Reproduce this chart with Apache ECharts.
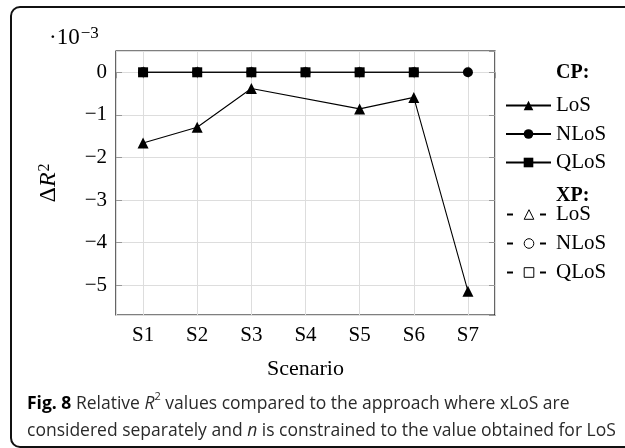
<!DOCTYPE html>
<html><head><meta charset="utf-8">
<script src="https://cdn.jsdelivr.net/npm/echarts@6/dist/echarts.min.js"></script>
<style>html,body{margin:0;padding:0;background:#fff}#c{width:625px;height:448px}</style>
</head><body><div id="c"></div>
<script>
const scenarios = ['S1','S2','S3','S4','S5','S6','S7'];
const cpLoS  = [-1.66, -1.29, -0.38, null, -0.86, -0.59, -5.14];
const cpNLoS = [0, 0, 0, 0, 0, 0, 0];
const cpQLoS = [0, 0, 0, 0, 0, 0, null];
const xpLoS  = [null, null, null, null, null, null, null];
const xpNLoS = [null, null, null, null, null, null, null];
const xpQLoS = [null, null, null, null, null, null, null];
const yTickValues = [0, -1, -2, -3, -4, -5];

const SERIF = "'Liberation Serif', 'DejaVu Serif', serif";
const SANS = "'Open Sans', 'Noto Sans', sans-serif";
const pairs = arr => arr.map((v, i) => [i + 1, v]);
const fmtY = v => {
  if (!yTickValues.includes(Math.round(v * 1000) / 1000)) return '';
  return v < 0 ? '\u2212' + Math.abs(v) : String(v);
};

const chart = echarts.init(document.getElementById('c'), null, {renderer: 'canvas'});

function mk(name, data, symbol, dashed, size) {
  return {
    name: name, type: 'line', data: pairs(data), connectNulls: true,
    symbol: symbol, symbolSize: size, showSymbol: true,
    lineStyle: {color: '#000', width: 1.1, type: dashed ? [6, 27] : 'solid'},
    itemStyle: dashed ? {color: '#fff', borderColor: '#000', borderWidth: 1} : {color: '#000'},
    emphasis: {disabled: true}, animation: false, z: 3
  };
}

const option = {
  animation: false,
  grid: {left: 116, top: 51, right: 130, bottom: 133, show: true, borderColor: '#000', borderWidth: 1.2, backgroundColor: 'transparent'},
  xAxis: [{
    type: 'value', min: 0.5, max: 7.5, splitNumber: 7,
    axisLine: {show: false},
    axisTick: {show: true, inside: true, length: 6, lineStyle: {color: '#999'}},
    splitLine: {show: true, lineStyle: {color: '#ddd', width: 1}},
    axisLabel: {showMinLabel: false, showMaxLabel: false, margin: 10, color: '#000', fontFamily: SERIF, fontSize: 21,
      formatter: v => scenarios[Math.round(v) - 1] !== undefined && Math.abs(v - Math.round(v)) < 1e-6 ? scenarios[Math.round(v) - 1] : ''},
    name: 'Scenario', nameLocation: 'middle', nameGap: 43,
    nameTextStyle: {color: '#000', fontFamily: SERIF, fontSize: 22}
  }, {
    type: 'value', position: 'top', min: 0.5, max: 7.5, splitNumber: 7,
    axisLine: {show: false}, axisLabel: {show: false}, splitLine: {show: false},
    axisTick: {show: true, inside: true, length: 6, lineStyle: {color: '#999'}}
  }],
  yAxis: [{
    type: 'value', min: -5.7, max: 0.5, splitNumber: 6,
    axisLine: {show: false},
    axisTick: {show: true, inside: true, length: 6, lineStyle: {color: '#999'}},
    splitLine: {show: true, lineStyle: {color: '#ddd', width: 1}},
    axisLabel: {showMinLabel: false, showMaxLabel: false, margin: 9, color: '#000', fontFamily: SERIF, fontSize: 21, formatter: fmtY},
    name: '\u0394{it|R}{sup|2}', nameLocation: 'middle', nameGap: 55, nameRotate: 90,
    nameTextStyle: {color: '#000', fontFamily: SERIF, fontSize: 24,
      rich: {it: {fontFamily: SERIF, fontStyle: 'italic', fontSize: 24, color: '#000'},
             sup: {fontFamily: SERIF, fontSize: 16, color: '#000', verticalAlign: 'top', padding: [0, 0, 6, 1]}}}
  }, {
    type: 'value', position: 'right', min: -5.7, max: 0.5, splitNumber: 6,
    axisLine: {show: false}, axisLabel: {show: false}, splitLine: {show: false},
    axisTick: {show: true, inside: true, length: 6, lineStyle: {color: '#999'}}
  }],
  legend: [{
    orient: 'vertical', left: 500, top: 90, itemWidth: 45, itemHeight: 12, itemGap: 7.5,
    data: ['CP LoS', 'CP NLoS', 'CP QLoS'],
    formatter: n => n.split(' ')[1],
    textStyle: {fontFamily: SERIF, fontSize: 21, color: '#000', lineHeight: 18}, selectedMode: false
  }, {
    orient: 'vertical', left: 501, top: 199, itemWidth: 44, itemHeight: 12, itemGap: 8,
    data: ['XP LoS', 'XP NLoS', 'XP QLoS'],
    formatter: n => n.split(' ')[1],
    itemStyle: {borderColor: '#000', borderWidth: 1},
    textStyle: {fontFamily: SERIF, fontSize: 21, color: '#000', lineHeight: 18}, selectedMode: false
  }],
  series: [
    mk('CP LoS', cpLoS, 'triangle', false, 11),
    mk('CP NLoS', cpNLoS, 'circle', false, 10),
    mk('CP QLoS', cpQLoS, 'rect', false, 10),
    mk('XP LoS', xpLoS, 'triangle', true, 8),
    mk('XP NLoS', xpNLoS, 'circle', true, 8),
    mk('XP QLoS', xpQLoS, 'rect', true, 8)
  ],
  graphic: [
    {type: 'rect', shape: {x: 11, y: 7, width: 640, height: 440, r: 9}, style: {fill: 'none', stroke: '#111', lineWidth: 2}, silent: true, z: 0},
    {type: 'text', x: 49, y: 25, style: {text: '\u00b710{sup|\u22123}', font: "23px " + SERIF, fill: '#000',
      rich: {sup: {fontFamily: SERIF, fontSize: 17, fill: '#000', verticalAlign: 'top', padding: [0, 0, 8, 1]}}}},
    {type: 'text', x: 556, y: 63, style: {text: 'CP:', font: "bold 20px " + SERIF, fill: '#000'}},
    {type: 'text', x: 556, y: 186, style: {text: 'XP:', font: "bold 20px " + SERIF, fill: '#000'}},
    {type: 'text', x: 27, y: 391, style: {
      text: '{b|Fig. 8} Relative {i|R}{sup|2} values compared to the approach where xLoS are\nconsidered separately and {i|n} is constrained to the value obtained for LoS',
      font: "17.5px " + SANS, fill: '#2a2a2a', lineHeight: 27,
      rich: {b: {fontFamily: SANS, fontWeight: 'bold', fontSize: 17.5, fill: '#000', lineHeight: 27},
             i: {fontFamily: SANS, fontStyle: 'italic', fontSize: 17.5, fill: '#2a2a2a', lineHeight: 27},
             sup: {fontFamily: SANS, fontSize: 11, fill: '#2a2a2a', verticalAlign: 'top', lineHeight: 27, padding: [0, 0, 2, 0]}}}}
  ]
};
chart.setOption(option);
</script></body></html>
